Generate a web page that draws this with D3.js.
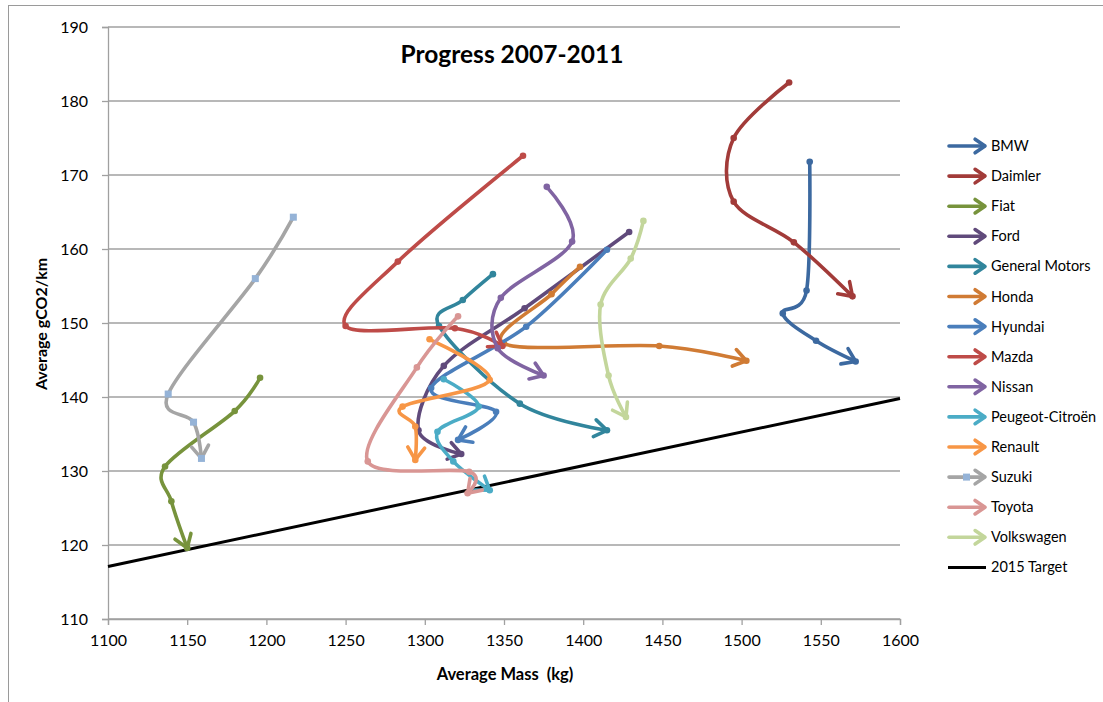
<!DOCTYPE html>
<html>
<head>
<meta charset="utf-8">
<script src="https://cdn.jsdelivr.net/npm/d3@7"></script>
<style>
  body { margin: 0; background: #fff; }
  text { font-family: Lato, "Open Sans", sans-serif; fill: #000; }
</style>
</head>
<body>
<svg id="chart" width="1103" height="702"></svg>
<script>
// mass (kg), gCO2/km for 2007..2011
const years = [2007, 2008, 2009, 2010, 2011];
const BMW = [[1543, 171.8], [1541, 154.4], [1526, 151.3], [1547, 147.6], [1572, 144.8]];
const Daimler = [[1530, 182.5], [1495, 175.0], [1495, 166.4], [1533, 160.9], [1570, 153.6]];
const Fiat = [[1196, 142.6], [1180, 138.1], [1136, 130.6], [1140, 125.9], [1150, 119.6]];
const Ford = [[1429, 162.3], [1363, 152.0], [1312, 144.2], [1296, 135.5], [1323, 132.3]];
const GM = [[1343, 156.6], [1324, 153.1], [1309, 149.6], [1360, 139.1], [1415, 135.5]];
const Honda = [[1398, 157.6], [1380, 153.9], [1350, 147.2], [1448, 146.9], [1503, 144.9]];
const Hyundai = [[1415, 159.9], [1364, 149.5], [1304, 141.2], [1345, 138.0], [1321, 134.2]];
const Mazda = [[1362, 172.6], [1283, 158.3], [1250, 149.6], [1319, 149.3], [1349, 146.9]];
const Nissan = [[1377, 168.4], [1393, 161.0], [1348, 153.4], [1346, 146.6], [1375, 142.9]];
const Peugeot = [[1312, 142.4], [1334, 138.7], [1308, 135.3], [1318, 131.3], [1341, 127.4]];
const Renault = [[1303, 147.8], [1341, 142.3], [1286, 138.7], [1294, 136.0], [1294, 131.5]];
const Suzuki = [[1217, 164.3], [1193, 156.0], [1138, 140.4], [1154, 136.6], [1159, 131.7]];
const Toyota = [[1321, 150.9], [1295, 144.0], [1264, 131.3], [1328, 129.9], [1327, 127.0]];
const Volkswagen = [[1438, 163.8], [1430, 158.7], [1411, 152.5], [1416, 142.9], [1427, 137.3]];
const target2015 = [[1100, 117.1], [1600, 139.8]];

const names = ["BMW", "Daimler", "Fiat", "Ford", "General Motors", "Honda", "Hyundai",
  "Mazda", "Nissan", "Peugeot-Citroën", "Renault", "Suzuki", "Toyota", "Volkswagen"];
const seriesData = [BMW, Daimler, Fiat, Ford, GM, Honda, Hyundai, Mazda, Nissan,
  Peugeot, Renault, Suzuki, Toyota, Volkswagen];
const colors = ["#3C69A0", "#A23B39", "#77933C", "#604A7B", "#31859C", "#D07B34", "#4A7EBB",
  "#BE4B48", "#8064A2", "#4BACC6", "#F79646", "#A5A5A5", "#D99694", "#C3D69B"];

const xTicks = [1100, 1150, 1200, 1250, 1300, 1350, 1400, 1450, 1500, 1550, 1600];
const yTicks = [110, 120, 130, 140, 150, 160, 170, 180, 190];

const svg = d3.select("#chart");
const plotL = 108, plotR = 900, plotT = 27, plotB = 619;

const x = d3.scaleLinear().domain([1100, 1600]).range([plotL, plotR]);
const y = d3.scaleLinear().domain([110, 190]).range([plotB, plotT]);

// outer frame + cut-off heading above
svg.append("rect").attr("x", 8.5).attr("y", 5.5).attr("width", 1200).attr("height", 800)
  .attr("fill", "none").attr("stroke", "#9a9a9a").attr("stroke-width", 1);
svg.append("text").attr("x", 146).attr("y", -4).attr("font-size", 24)
  .attr("font-weight", "bold").text("p");

// gridlines
svg.append("g").selectAll("line").data(yTicks).join("line")
  .attr("x1", plotL).attr("x2", plotR)
  .attr("y1", d => y(d)).attr("y2", d => y(d))
  .attr("stroke", "#a0a0a0").attr("stroke-width", 1.3);

const yAxis = svg.append("g").attr("transform", `translate(${plotL},0)`)
  .call(d3.axisLeft(y).tickValues(yTicks).tickSize(6).tickPadding(14));
const xAxis = svg.append("g").attr("transform", `translate(0,${plotB})`)
  .call(d3.axisBottom(x).tickValues(xTicks).tickFormat(d3.format("d"))
    .tickSize(6).tickPadding(10));
[yAxis, xAxis].forEach(a => {
  a.select(".domain").attr("stroke", "#a0a0a0").attr("stroke-width", 1.3);
  a.selectAll(".tick line").attr("stroke", "#a0a0a0").attr("stroke-width", 1.3);
  a.selectAll(".tick text").attr("font-size", 16).attr("fill", "#000")
    .style("font-family", "Lato, sans-serif");
});

// titles
svg.append("text").attr("x", 512).attr("y", 63).attr("text-anchor", "middle")
  .attr("font-size", 24.5).attr("font-weight", "bold").text("Progress 2007-2011");
svg.append("text").attr("x", 505).attr("y", 680).attr("text-anchor", "middle")
  .attr("font-size", 16.5).attr("font-weight", "bold").attr("xml:space", "preserve")
  .text("Average Mass  (kg)");
svg.append("text").attr("transform", "translate(47,324) rotate(-90)")
  .attr("text-anchor", "middle").attr("font-size", 16).attr("font-weight", "bold")
  .text("Average gCO2/km");

// target line
svg.append("path").datum(target2015)
  .attr("d", d3.line().x(d => x(d[0])).y(d => y(d[1])))
  .attr("stroke", "#000").attr("stroke-width", 3).attr("fill", "none");

const line = d3.line().x(d => x(d[0])).y(d => y(d[1])).curve(d3.curveCatmullRom.alpha(0));

function chevron(g, tip, dir, len, color, width) {
  const ang = Math.atan2(dir[1], dir[0]);
  const spread = 0.6;
  const pts = [-spread, spread].map(s => [
    tip[0] - len * Math.cos(ang + s), tip[1] - len * Math.sin(ang + s)]);
  g.append("path")
    .attr("d", `M${pts[0][0]},${pts[0][1]}L${tip[0]},${tip[1]}L${pts[1][0]},${pts[1][1]}`)
    .attr("fill", "none").attr("stroke", color).attr("stroke-width", width)
    .attr("stroke-linecap", "round").attr("stroke-linejoin", "round");
}

const plot = svg.append("g");
seriesData.forEach((data, i) => {
  const g = plot.append("g");
  const p = g.append("path").datum(data).attr("d", line)
    .attr("fill", "none").attr("stroke", colors[i]).attr("stroke-width", 3.6)
    .attr("stroke-linecap", "round");
  const node = p.node(), L = node.getTotalLength();
  const a = node.getPointAtLength(L - 5), b = node.getPointAtLength(L);
  chevron(g, [b.x, b.y], [b.x - a.x, b.y - a.y], 15, colors[i], 3.6);
  if (names[i] === "Suzuki") {
    g.selectAll("rect").data(data).join("rect")
      .attr("x", d => x(d[0]) - 3.5).attr("y", d => y(d[1]) - 3.5)
      .attr("width", 7).attr("height", 7).attr("fill", "#95B3D7");
  } else {
    g.selectAll("circle").data(data).join("circle")
      .attr("cx", d => x(d[0])).attr("cy", d => y(d[1])).attr("r", 3.3)
      .attr("fill", colors[i]);
  }
});

// legend
const legend = svg.append("g");
const legendNames = names.concat(["2015 Target"]);
legendNames.forEach((n, i) => {
  const ly = 146 + i * 30.1;
  const g = legend.append("g");
  if (i < names.length) {
    g.append("line").attr("x1", 949).attr("x2", 984).attr("y1", ly).attr("y2", ly)
      .attr("stroke", colors[i]).attr("stroke-width", 3.6).attr("stroke-linecap", "round");
    chevron(g, [985, ly], [1, 0], 12, colors[i], 3.6);
    if (n === "Suzuki") {
      g.append("rect").attr("x", 963).attr("y", ly - 3.5).attr("width", 7).attr("height", 7)
        .attr("fill", "#95B3D7");
    }
  } else {
    g.append("line").attr("x1", 948).attr("x2", 986).attr("y1", ly).attr("y2", ly)
      .attr("stroke", "#000").attr("stroke-width", 3);
  }
  g.append("text").attr("x", 991).attr("y", ly + 5).attr("font-size", 14.5).text(n);
});
</script>
</body>
</html>
